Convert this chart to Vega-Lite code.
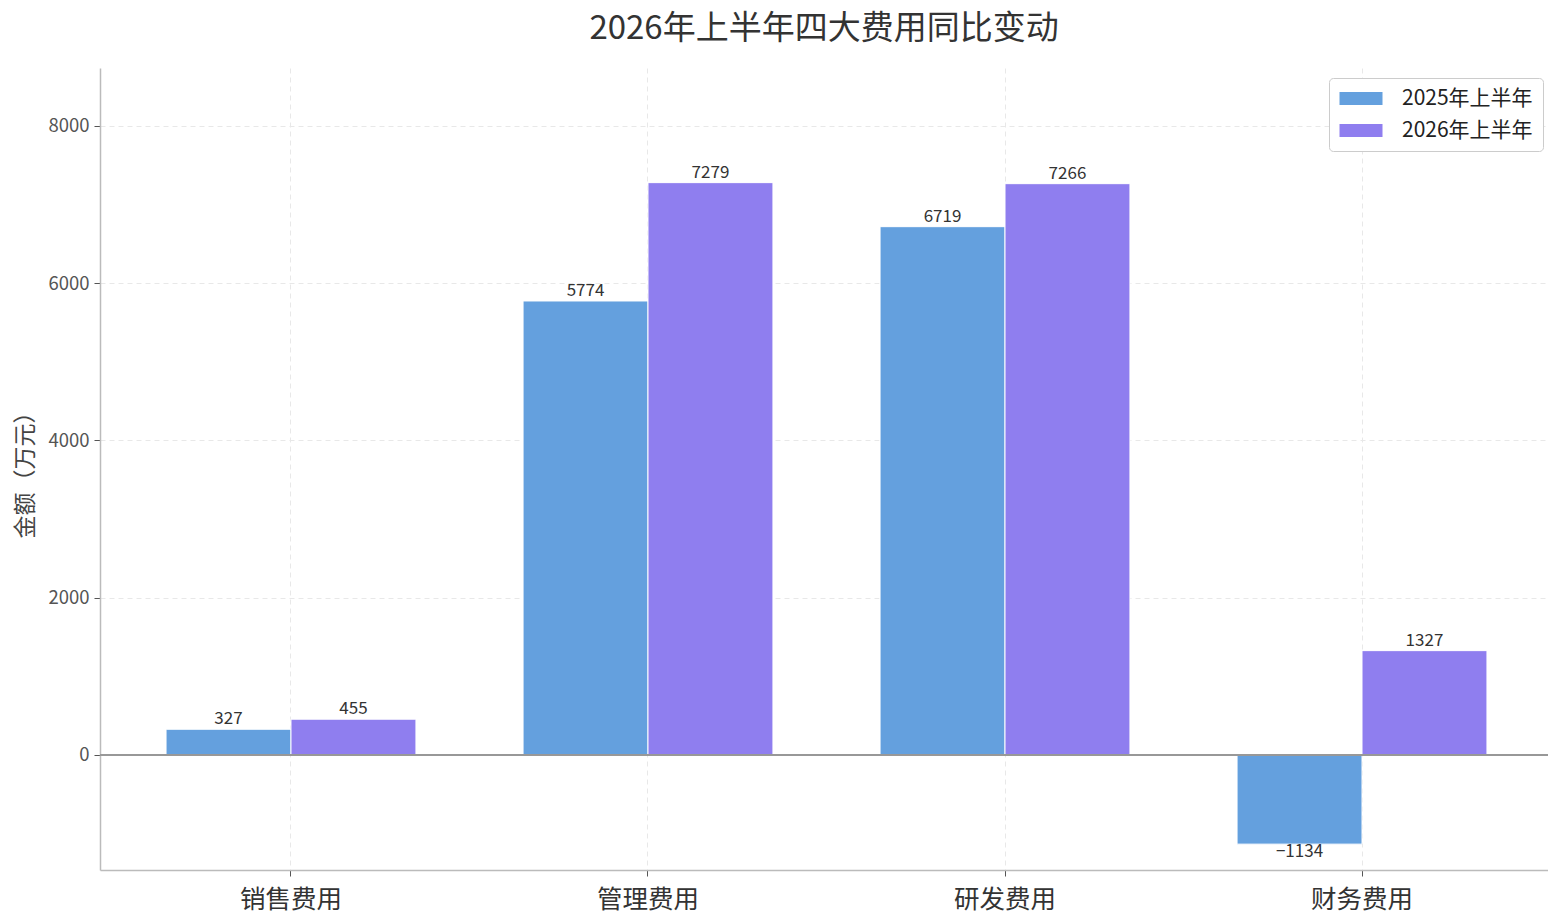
{
  "$schema": "https://vega.github.io/schema/vega-lite/v6.json",
  "autosize": {"type": "none"},
  "padding": {"left": 100, "top": 68, "right": 0, "bottom": 43},
  "width": 1448,
  "height": 802,
  "background": "white",
  "title": {
    "text": "2026年上半年四大费用同比变动",
    "fontSize": 33,
    "font": "Noto Sans CJK SC",
    "fontWeight": "normal",
    "color": "#333333",
    "anchor": "middle",
    "offset": 22
  },
  "config": {
    "font": "Noto Sans CJK SC",
    "view": {"stroke": null}
  },
  "data": {
    "values": [
      {"category": "销售费用", "period": "2025年上半年", "amount": 327},
      {"category": "销售费用", "period": "2026年上半年", "amount": 455},
      {"category": "管理费用", "period": "2025年上半年", "amount": 5774},
      {"category": "管理费用", "period": "2026年上半年", "amount": 7279},
      {"category": "研发费用", "period": "2025年上半年", "amount": 6719},
      {"category": "研发费用", "period": "2026年上半年", "amount": 7266},
      {"category": "财务费用", "period": "2025年上半年", "amount": -1134},
      {"category": "财务费用", "period": "2026年上半年", "amount": 1327}
    ]
  },
  "encoding": {
    "x": {
      "field": "category",
      "type": "nominal",
      "sort": null,
      "scale": {"paddingInner": 0.3, "paddingOuter": 0.185, "range": [0, 1453]},
      "axis": {
        "title": null,
        "labelAngle": 0,
        "labelFontSize": 25.5,
        "labelColor": "#333333",
        "labelPadding": 11,
        "tickColor": "#555555",
        "tickSize": 6,
        "domainColor": "#bbbbbb",
        "domainWidth": 1.5,
        "grid": true,
        "bandPosition": 0.5,
        "gridColor": "#e8e8e8",
        "gridDash": [5, 4]
      }
    },
    "xOffset": {"field": "period", "type": "nominal", "scale": {"paddingInner": 0, "paddingOuter": 0}},
    "y": {
      "field": "amount",
      "type": "quantitative",
      "scale": {"domain": [-1463, 8737], "nice": false, "zero": false},
      "axis": {
        "title": "金额（万元）",
        "titleFontSize": 23,
        "titleFontWeight": "normal",
        "titleColor": "#444444",
        "titlePadding": 10,
        "values": [0, 2000, 4000, 6000, 8000],
        "format": "d",
        "labelFontSize": 18.5,
        "labelColor": "#555555",
        "labelPadding": 5,
        "tickColor": "#555555",
        "tickSize": 6,
        "domainColor": "#bbbbbb",
        "domainWidth": 1.5,
        "gridColor": "#e8e8e8",
        "gridDash": [5, 4]
      }
    }
  },
  "layer": [
    {
      "mark": {"type": "bar", "stroke": "white", "strokeWidth": 1},
      "encoding": {
        "color": {
          "field": "period",
          "type": "nominal",
          "scale": {"domain": ["2025年上半年", "2026年上半年"], "range": ["#64a0de", "#8f7eef"]},
          "legend": {
            "title": null,
            "orient": "none",
            "legendX": 1229,
            "legendY": 10,
            "padding": 10,
            "strokeColor": "#cccccc",
            "fillColor": "white",
            "cornerRadius": 4,
            "labelFontSize": 21,
            "labelColor": "#222222",
            "labelOffset": 42,
            "rowPadding": 10,
            "symbolType": "M-1,-0.65L3.3,-0.65L3.3,0.65L-1,0.65Z",
            "symbolSize": 400,
            "symbolStrokeWidth": 0,
            "symbolOpacity": 1
          }
        }
      }
    },
    {
      "mark": {"type": "rule", "color": "#999999", "strokeWidth": 1.5},
      "encoding": {
        "y": {"datum": 0},
        "x": null,
        "xOffset": null
      }
    },
    {
      "transform": [{"filter": "datum.amount >= 0"}],
      "mark": {"type": "text", "baseline": "bottom", "dy": -1, "fontSize": 17, "color": "#333333"},
      "encoding": {"text": {"field": "amount", "type": "quantitative"}}
    },
    {
      "transform": [{"filter": "datum.amount < 0"}],
      "mark": {"type": "text", "baseline": "top", "dy": 0, "fontSize": 17, "color": "#333333"},
      "encoding": {"text": {"field": "amount", "type": "quantitative"}}
    }
  ]
}
